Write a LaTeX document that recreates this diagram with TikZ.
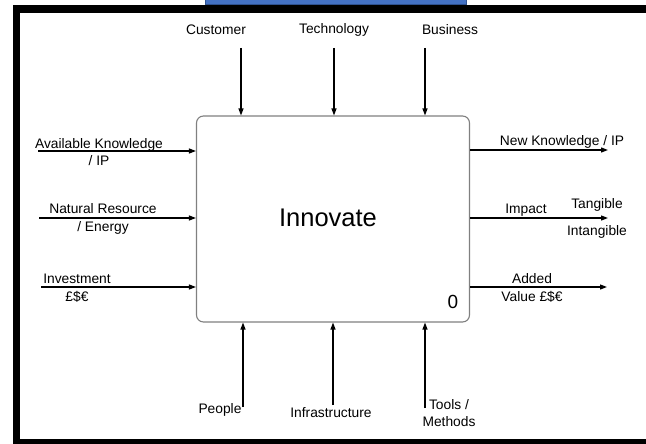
\documentclass[tikz,border=0pt]{standalone}
\usepackage{fontspec}
\setmainfont{Liberation Sans}
\usetikzlibrary{arrows.meta,positioning,calc}
\definecolor{barblue}{HTML}{4472C4}
\definecolor{baredge}{HTML}{2F528F}

\begin{document}
\begin{tikzpicture}[
  x=1pt,y=-1pt,
  >={Triangle[length=7pt,width=5pt]},
  every node/.style={font=\fontsize{13.8}{17.5}\selectfont,inner sep=0pt},
  flow/.style={->,line width=1.2pt},
  process/.style={draw=black!50,line width=1.1pt,rounded corners=7pt,
    minimum width=273pt,minimum height=206pt},
  lbl/.style={align=center}
  ]
  \useasboundingbox (0,0) rectangle (646,444);
  % frame and header bar
  \fill (13,5) rectangle (646,13);
  \fill (13,5) rectangle (20,444);
  \fill (13,438.5) rectangle (646,444);
  \filldraw [fill=barblue,draw=baredge,line width=1pt] (205,-3) rectangle (466,4.5);

  % the activity box
  \node [process] (inn) at (333,219) {};
  \node [font=\fontsize{25.5}{28}\selectfont] (title) at (328,218) {Innovate};
  \node [font=\fontsize{19}{22}\selectfont] (num) at (453,302) {0};

  % controls (top)
  \node (lcust) at (216,30) {Customer};
  \node (ltech) at (334,30) {Technology};
  \node (lbus)  at (450,30) {Business};
  \coordinate (cust) at (241,48);
  \coordinate (tech) at (334,48);
  \coordinate (bus)  at (425,48);
  \draw [flow] (cust) -- (cust |- inn.north);
  \draw [flow] (tech) -- (tech |- inn.north);
  \draw [flow] (bus)  -- (bus |- inn.north);

  % inputs (left)
  \node [lbl] (lak)  at (99,152)  {Available Knowledge\\/ IP};
  \node [lbl] (lnr)  at (103,219) {Natural Resource\\/ Energy};
  \node [lbl] (linv) at (77,288)  {Investment\\£\$€};
  \coordinate (ak)  at (38,151);
  \coordinate (nr)  at (39,218);
  \coordinate (inv) at (41,287);
  \draw [flow] (ak)  -- (ak -| inn.west);
  \draw [flow] (nr)  -- (nr -| inn.west);
  \draw [flow] (inv) -- (inv -| inn.west);

  % outputs (right)
  \node (lnk)  at (562,142) {New Knowledge / IP};
  \node (limp) at (526,210) {Impact};
  \node (ltan) at (597,205) {Tangible};
  \node (lint) at (597,232) {Intangible};
  \node [lbl] (ladd) at (532,288) {Added\\Value £\$€};
  \coordinate (nk)  at (608,150);
  \coordinate (imp) at (608,218);
  \coordinate (add) at (607,287);
  \draw [flow] (nk -| inn.east)  -- (nk);
  \draw [flow] (imp -| inn.east) -- (imp);
  \draw [flow] (add -| inn.east) -- (add);

  % mechanisms (bottom)
  \node (lppl) at (220,410) {People};
  \node (linf) at (331,413) {Infrastructure};
  \node [lbl] (ltool) at (449,413) {Tools /\\Methods};
  \coordinate (ppl)  at (243,407);
  \coordinate (infr) at (333,405);
  \coordinate (tool) at (425,408);
  \draw [flow] (ppl)  -- (ppl |- inn.south);
  \draw [flow] (infr) -- (infr |- inn.south);
  \draw [flow] (tool) -- (tool |- inn.south);
\end{tikzpicture}
\end{document}
